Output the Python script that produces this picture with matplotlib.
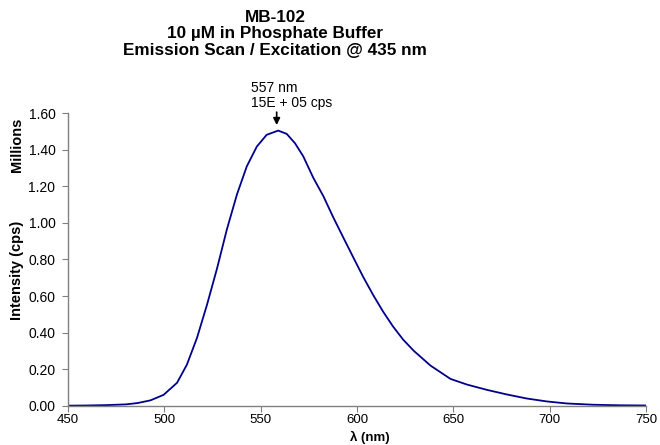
import matplotlib
matplotlib.use("Agg")
import matplotlib.pyplot as plt

plt.rcParams["font.family"] = ["Liberation Sans", "DejaVu Sans"]

# emission spectrum (intensity in millions of cps)
wavelength = [450, 460, 470, 480, 486, 492.8, 499.6, 506.6, 511.7, 516.9,
              522.1, 527.3, 532.5, 537.7, 542.8, 548.0, 553.1, 559.1, 563.5,
              567.8, 572.1, 577.3, 582.5, 587.7, 592.8, 598.0, 603.2, 608.4,
              613.5, 618.7, 623.9, 629.5, 638.1, 648.5, 657.1, 667.5, 677.8,
              688.1, 698.5, 708.8, 722.6, 736.4, 750]
intensity = [0.001, 0.002, 0.004, 0.008, 0.015, 0.030, 0.060, 0.126, 0.225,
             0.370, 0.551, 0.749, 0.966, 1.156, 1.309, 1.417, 1.481, 1.504,
             1.486, 1.435, 1.363, 1.246, 1.146, 1.029, 0.921, 0.812, 0.704,
             0.605, 0.515, 0.433, 0.362, 0.300, 0.220, 0.147, 0.116, 0.087,
             0.062, 0.040, 0.024, 0.013, 0.006, 0.003, 0.002]

x_ticks = [450, 500, 550, 600, 650, 700, 750]
y_ticks = [0.0, 0.2, 0.4, 0.6, 0.8, 1.0, 1.2, 1.4, 1.6]

fig = plt.figure(figsize=(6.6, 4.45), dpi=100)
ax = fig.add_axes([0.103, 0.088, 0.876, 0.658])

ax.plot(wavelength, intensity, color="#00008B", linewidth=1.3)

ax.set_xlim(450, 750)
ax.set_ylim(0, 1.6)
ax.set_xticks(x_ticks)
ax.set_yticks(y_ticks)
ax.set_yticklabels([f"{v:.2f}" for v in y_ticks])

for side in ["top", "right"]:
    ax.spines[side].set_visible(False)
for side in ["left", "bottom"]:
    ax.spines[side].set_color("#808080")
    ax.spines[side].set_linewidth(1.0)
ax.tick_params(direction="out", length=4, color="#808080", labelsize=10)
ax.tick_params(axis="x", pad=2, labelsize=9.5)
ax.tick_params(axis="y", pad=5)

fig.text(0.561, 0.002, "λ (nm)", fontsize=9.5, fontweight="bold",
         ha="center", va="bottom")
fig.text(0.026, 0.393, "Intensity (cps)", rotation=90, fontsize=10.5,
         fontweight="bold", ha="center", va="center")
fig.text(0.026, 0.674, "Millions", rotation=90, fontsize=10.5,
         fontweight="bold", ha="center", va="center")

fig.text(0.417, 0.978, "MB-102\n10 µM in Phosphate Buffer\nEmission Scan / Excitation @ 435 nm",
         fontsize=12.3, fontweight="bold", ha="center", va="top", linespacing=1.12)

# peak annotation
fig.text(0.380, 0.7933, "557 nm", fontsize=10, ha="left", va="baseline")
fig.text(0.380, 0.7596, "15E + 05 cps", fontsize=10, ha="left", va="baseline")
fig.patches.append(matplotlib.patches.FancyArrowPatch(
    (0.4192, 0.748), (0.4192, 0.719), transform=fig.transFigure,
    arrowstyle="-|>", mutation_scale=10, color="black", lw=1.2,
    shrinkA=0, shrinkB=0))

fig.savefig("out.png", dpi=100)
